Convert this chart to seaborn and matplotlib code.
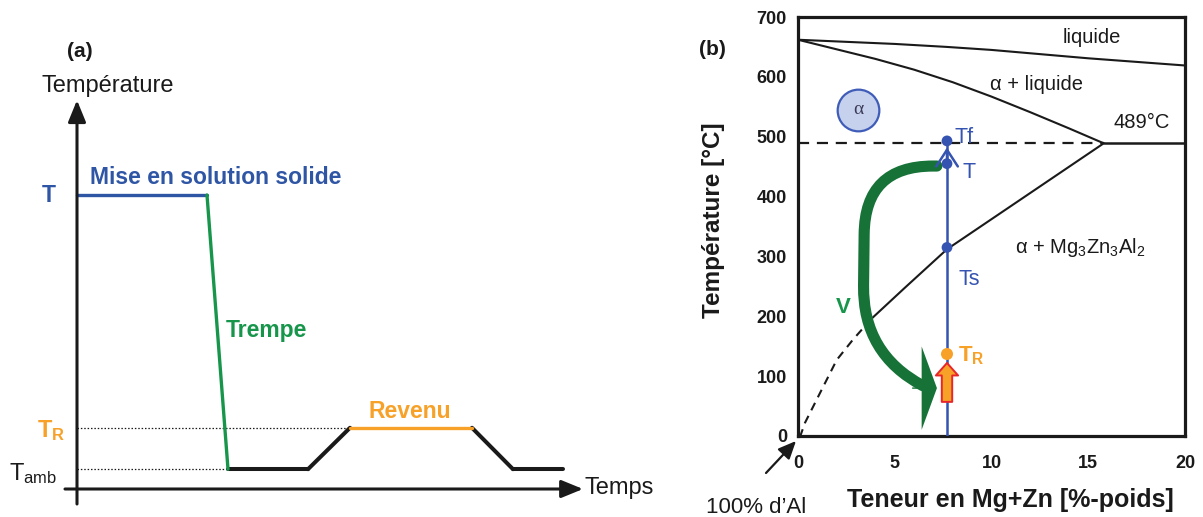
import matplotlib
matplotlib.use("Agg")
import matplotlib.pyplot as plt
import pandas as pd
import seaborn as sns

# ---------------- panel (a): heat treatment schedule ----------------
phase_names = ["mise", "trempe", "attente", "chauffe", "revenu", "refroid", "fin"]
phase_times = [0.0, 2.6, 3.02, 4.62, 5.46, 7.9, 8.72, 9.72]
T_SOL = 490   # mise en solution
T_REV = 102   # revenu
T_AMB = 33    # ambiante
phase_start = [T_SOL, T_SOL, T_AMB, T_AMB, T_REV, T_REV, T_AMB]
phase_end = [T_SOL, T_AMB, T_AMB, T_REV, T_REV, T_AMB, T_AMB]

# ---------------- panel (b): Al-(Mg+Zn) phase diagram ----------------
liq_x = [0, 5, 7.7, 10, 15, 20]
liq_y = [662, 655, 650, 645, 631, 619]
sol_x = [0, 2, 4, 6, 8, 10, 12, 14, 15.8]
sol_y = [662, 646, 630, 612, 591, 567, 541, 514, 489]
solvus_x = [15.8, 11.5, 7.7, 5.5, 3.8]
solvus_y = [489, 395, 312, 247, 196]
solvus_ext_x = [3.8, 2.84, 2.0, 1.14, 0.36, 0.12]
solvus_ext_y = [196, 161, 127, 72, 22, 0]
T_EUT = 489
X_EUT = 15.8
COMP = 7.7
T_F, T_HOLD, T_S, T_R = 493, 455, 315, 137
x_ticks = [0, 5, 10, 15, 20]
y_ticks = [0, 100, 200, 300, 400, 500, 600, 700]

BLUE_A = "#2f55a5"
BLUE_B = "#3553b0"
GREEN = "#17964b"
DKGREEN = "#177238"
ORANGE = "#f7a128"
RED = "#e8262a"
INK = "#1a1a1a"

W, H = 1203, 517
sns.set_theme(style="white")
plt.rcParams["font.family"] = ["Liberation Sans", "DejaVu Sans"]
plt.rcParams["mathtext.default"] = "regular"

fig = plt.figure(figsize=(W / 100, H / 100), dpi=100)

# panel (a) axes: 50 px per time unit, 0.6 px per temperature unit, origin at (77, 489) px
axA = fig.add_axes([0, 0, 680 / W, 1])
axA.set_xlim(-77 / 50, (680 - 77) / 50)
axA.set_ylim(-(H - 489) / 0.6, 489 / 0.6)
axA.axis("off")

rows = []
for name, t0, t1, y0, y1 in zip(phase_names, phase_times[:-1], phase_times[1:], phase_start, phase_end):
    rows.append({"phase": name, "temps": t0, "temp": y0})
    rows.append({"phase": name, "temps": t1, "temp": y1})
sched = pd.DataFrame(rows)
coloured = {"mise": BLUE_A, "trempe": GREEN, "revenu": ORANGE}
is_col = sched["phase"].isin(list(coloured))

axA.plot([0, phase_times[4]], [T_REV, T_REV], color=INK, lw=0.9, ls=(0, (1.2, 1.5)))
axA.plot([0, phase_times[2]], [T_AMB, T_AMB], color=INK, lw=0.9, ls=(0, (1.2, 1.5)))
sns.lineplot(data=sched[~is_col], x="temps", y="temp", hue="phase",
             palette={n: INK for n in phase_names if n not in coloured},
             estimator=None, sort=False, legend=False, lw=2.9, ax=axA)
sns.lineplot(data=sched[is_col], x="temps", y="temp", hue="phase", palette=coloured,
             estimator=None, sort=False, legend=False, lw=2.4, ax=axA)

arrow_kw = dict(arrowstyle="-|>,head_length=1.1,head_width=0.45", color=INK, lw=2.2,
                shrinkA=0, shrinkB=0)
axA.annotate("", xy=(0, 648), xytext=(0, -25), arrowprops=arrow_kw)
axA.annotate("", xy=(10.12, 0), xytext=(-0.24, 0), arrowprops=arrow_kw)

axA.text(0.06, 720, "(a)", fontsize=15, fontweight="bold", ha="center", va="baseline", color=INK)
axA.text(0.61, 662, "Température", fontsize=17, ha="center", va="baseline", color=INK)
axA.text(10.16, -8, "Temps", fontsize=17, ha="left", va="baseline", color=INK)
axA.text(0.26, 508, "Mise en solution solide", fontsize=16.5, fontweight="bold",
         ha="left", va="baseline", color=BLUE_A)
axA.text(-0.56, 478, "T", fontsize=16.5, fontweight="bold", ha="center", va="baseline", color=BLUE_A)
axA.text(2.98, 253, "Trempe", fontsize=16.5, fontweight="bold", ha="left", va="baseline", color=GREEN)
axA.text(5.84, 118, "Revenu", fontsize=16.5, fontweight="bold", ha="left", va="baseline", color=ORANGE)
axA.text(-0.8, 87, r"T$_\mathregular{R}$", fontsize=17, fontweight="bold", ha="left",
         va="baseline", color=ORANGE)
axA.text(-1.36, 15, r"T$_\mathregular{amb}$", fontsize=17, ha="left", va="baseline", color=INK)

# panel (b) axes
axB = fig.add_axes([798 / W, (H - 436) / H, (1185 - 798) / W, (436 - 17) / H])
for cx, cy in [(liq_x, liq_y), (sol_x, sol_y), (solvus_x, solvus_y)]:
    sns.lineplot(x=cx, y=cy, sort=False, estimator=None, color=INK, lw=1.5, ax=axB)
sns.lineplot(x=solvus_ext_x, y=solvus_ext_y, sort=False, estimator=None, color=INK, lw=1.5,
             linestyle=(0, (4, 3)), ax=axB)
axB.plot([0, X_EUT], [T_EUT, T_EUT], color=INK, lw=1.6, ls=(0, (5, 3.5)))
axB.plot([X_EUT, 20], [T_EUT, T_EUT], color=INK, lw=1.8)

axB.plot([COMP, COMP], [0, T_F], color=BLUE_B, lw=1.8, zorder=4)
axB.annotate("", xy=(COMP, 482), xytext=(COMP, T_HOLD),
             arrowprops=dict(arrowstyle="->,head_length=1.0,head_width=0.65", color=BLUE_B,
                             lw=1.8, shrinkA=0, shrinkB=0), zorder=4)
sns.scatterplot(x=[COMP, COMP, COMP], y=[T_F, T_HOLD, T_S], color=BLUE_B, s=60,
                edgecolor="none", ax=axB, zorder=5)
sns.scatterplot(x=[COMP], y=[T_R], color=ORANGE, s=75, edgecolor="none", ax=axB, zorder=5)

# quench arrow (green): C-shaped body, then a wide head pointing right
axB.annotate("", xy=(6.45, 84), xytext=(7.18, 451),
             arrowprops=dict(arrowstyle="-", lw=8, color=DKGREEN, shrinkA=0, shrinkB=0,
                             connectionstyle="arc,angleA=180,armA=72,angleB=152,armB=68,rad=68"),
             zorder=3)
axB.annotate("", xy=(7.18, 80), xytext=(5.9, 80),
             arrowprops=dict(arrowstyle="simple,head_length=11,head_width=60,tail_width=1",
                             mutation_scale=1, fc=DKGREEN, ec="none", shrinkA=0, shrinkB=0),
             zorder=3)
# ageing arrow (orange)
axB.annotate("", xy=(COMP, 122), xytext=(COMP, 57),
             arrowprops=dict(arrowstyle="simple,head_length=0.9,head_width=1.6,tail_width=0.75",
                             mutation_scale=10, fc=ORANGE, ec=RED, lw=1.4,
                             shrinkA=0, shrinkB=0), zorder=6)

# alpha phase bubble
axB.scatter([3.1], [545], s=900, color="#c6d1ee", edgecolor="#3f5db8", linewidth=1.6, zorder=4)
axB.text(3.1, 545, "α", fontsize=14, family=["Liberation Serif", "DejaVu Serif"],
         ha="center", va="center", color="#3a3a55", zorder=5)

axB.text(15.19, 656, "liquide", fontsize=14.5, ha="center", va="baseline", color=INK)
axB.text(9.92, 578, "α + liquide", fontsize=14.5, ha="left", va="baseline", color=INK)
axB.text(16.28, 514, "489°C", fontsize=14.5, ha="left", va="baseline", color=INK)
axB.text(11.21, 306, r"α + Mg$_3$Zn$_3$Al$_2$", fontsize=14.5, ha="left", va="baseline", color=INK)
axB.text(8.11, 489, "Tf", fontsize=15.5, ha="left", va="baseline", color=BLUE_B)
axB.text(8.48, 431, "T", fontsize=15.5, ha="left", va="baseline", color=BLUE_B)
axB.text(8.27, 252, "Ts", fontsize=15.5, ha="left", va="baseline", color=BLUE_B)
axB.text(8.27, 124, r"T$_\mathregular{R}$", fontsize=16, fontweight="bold", ha="left",
         va="baseline", color=ORANGE)
axB.text(2.33, 205, "V", fontsize=16, fontweight="bold", ha="center", va="baseline", color=GREEN)

axB.set_xlim(0, 20)
axB.set_ylim(0, 700)
axB.set_xticks(x_ticks)
axB.set_yticks(y_ticks)
axB.tick_params(axis="x", direction="in", length=4, width=2, labelsize=13, pad=14, colors=INK)
axB.tick_params(axis="y", direction="in", length=4, width=2, labelsize=13, pad=8, colors=INK)
for lab in axB.get_xticklabels() + axB.get_yticklabels():
    lab.set_fontweight("bold")
for side in axB.spines.values():
    side.set_linewidth(2.3)
    side.set_color(INK)
axB.set_xlabel("Teneur en Mg+Zn [%-poids]", fontsize=18, fontweight="bold", color=INK, va="top")
axB.set_ylabel("Température [°C]", fontsize=17.5, fontweight="bold", color=INK)
axB.xaxis.set_label_coords(0.55, -0.125)
axB.yaxis.set_label_coords(-0.189, 0.515)

fig.text(712 / W, 1 - 55 / H, "(b)", fontsize=15, fontweight="bold", ha="center", va="baseline",
         color=INK)
fig.text(706 / W, 1 - 513 / H, "100% d’Al", fontsize=16, ha="left", va="baseline", color=INK)
axB.annotate("", xy=(796, H - 441), xycoords="figure pixels", xytext=(766, H - 473),
             textcoords="figure pixels",
             arrowprops=dict(arrowstyle="-|>,head_length=0.9,head_width=0.4", color=INK, lw=1.6,
                             shrinkA=0, shrinkB=0), annotation_clip=False)

fig.savefig("out.png", dpi=100)
